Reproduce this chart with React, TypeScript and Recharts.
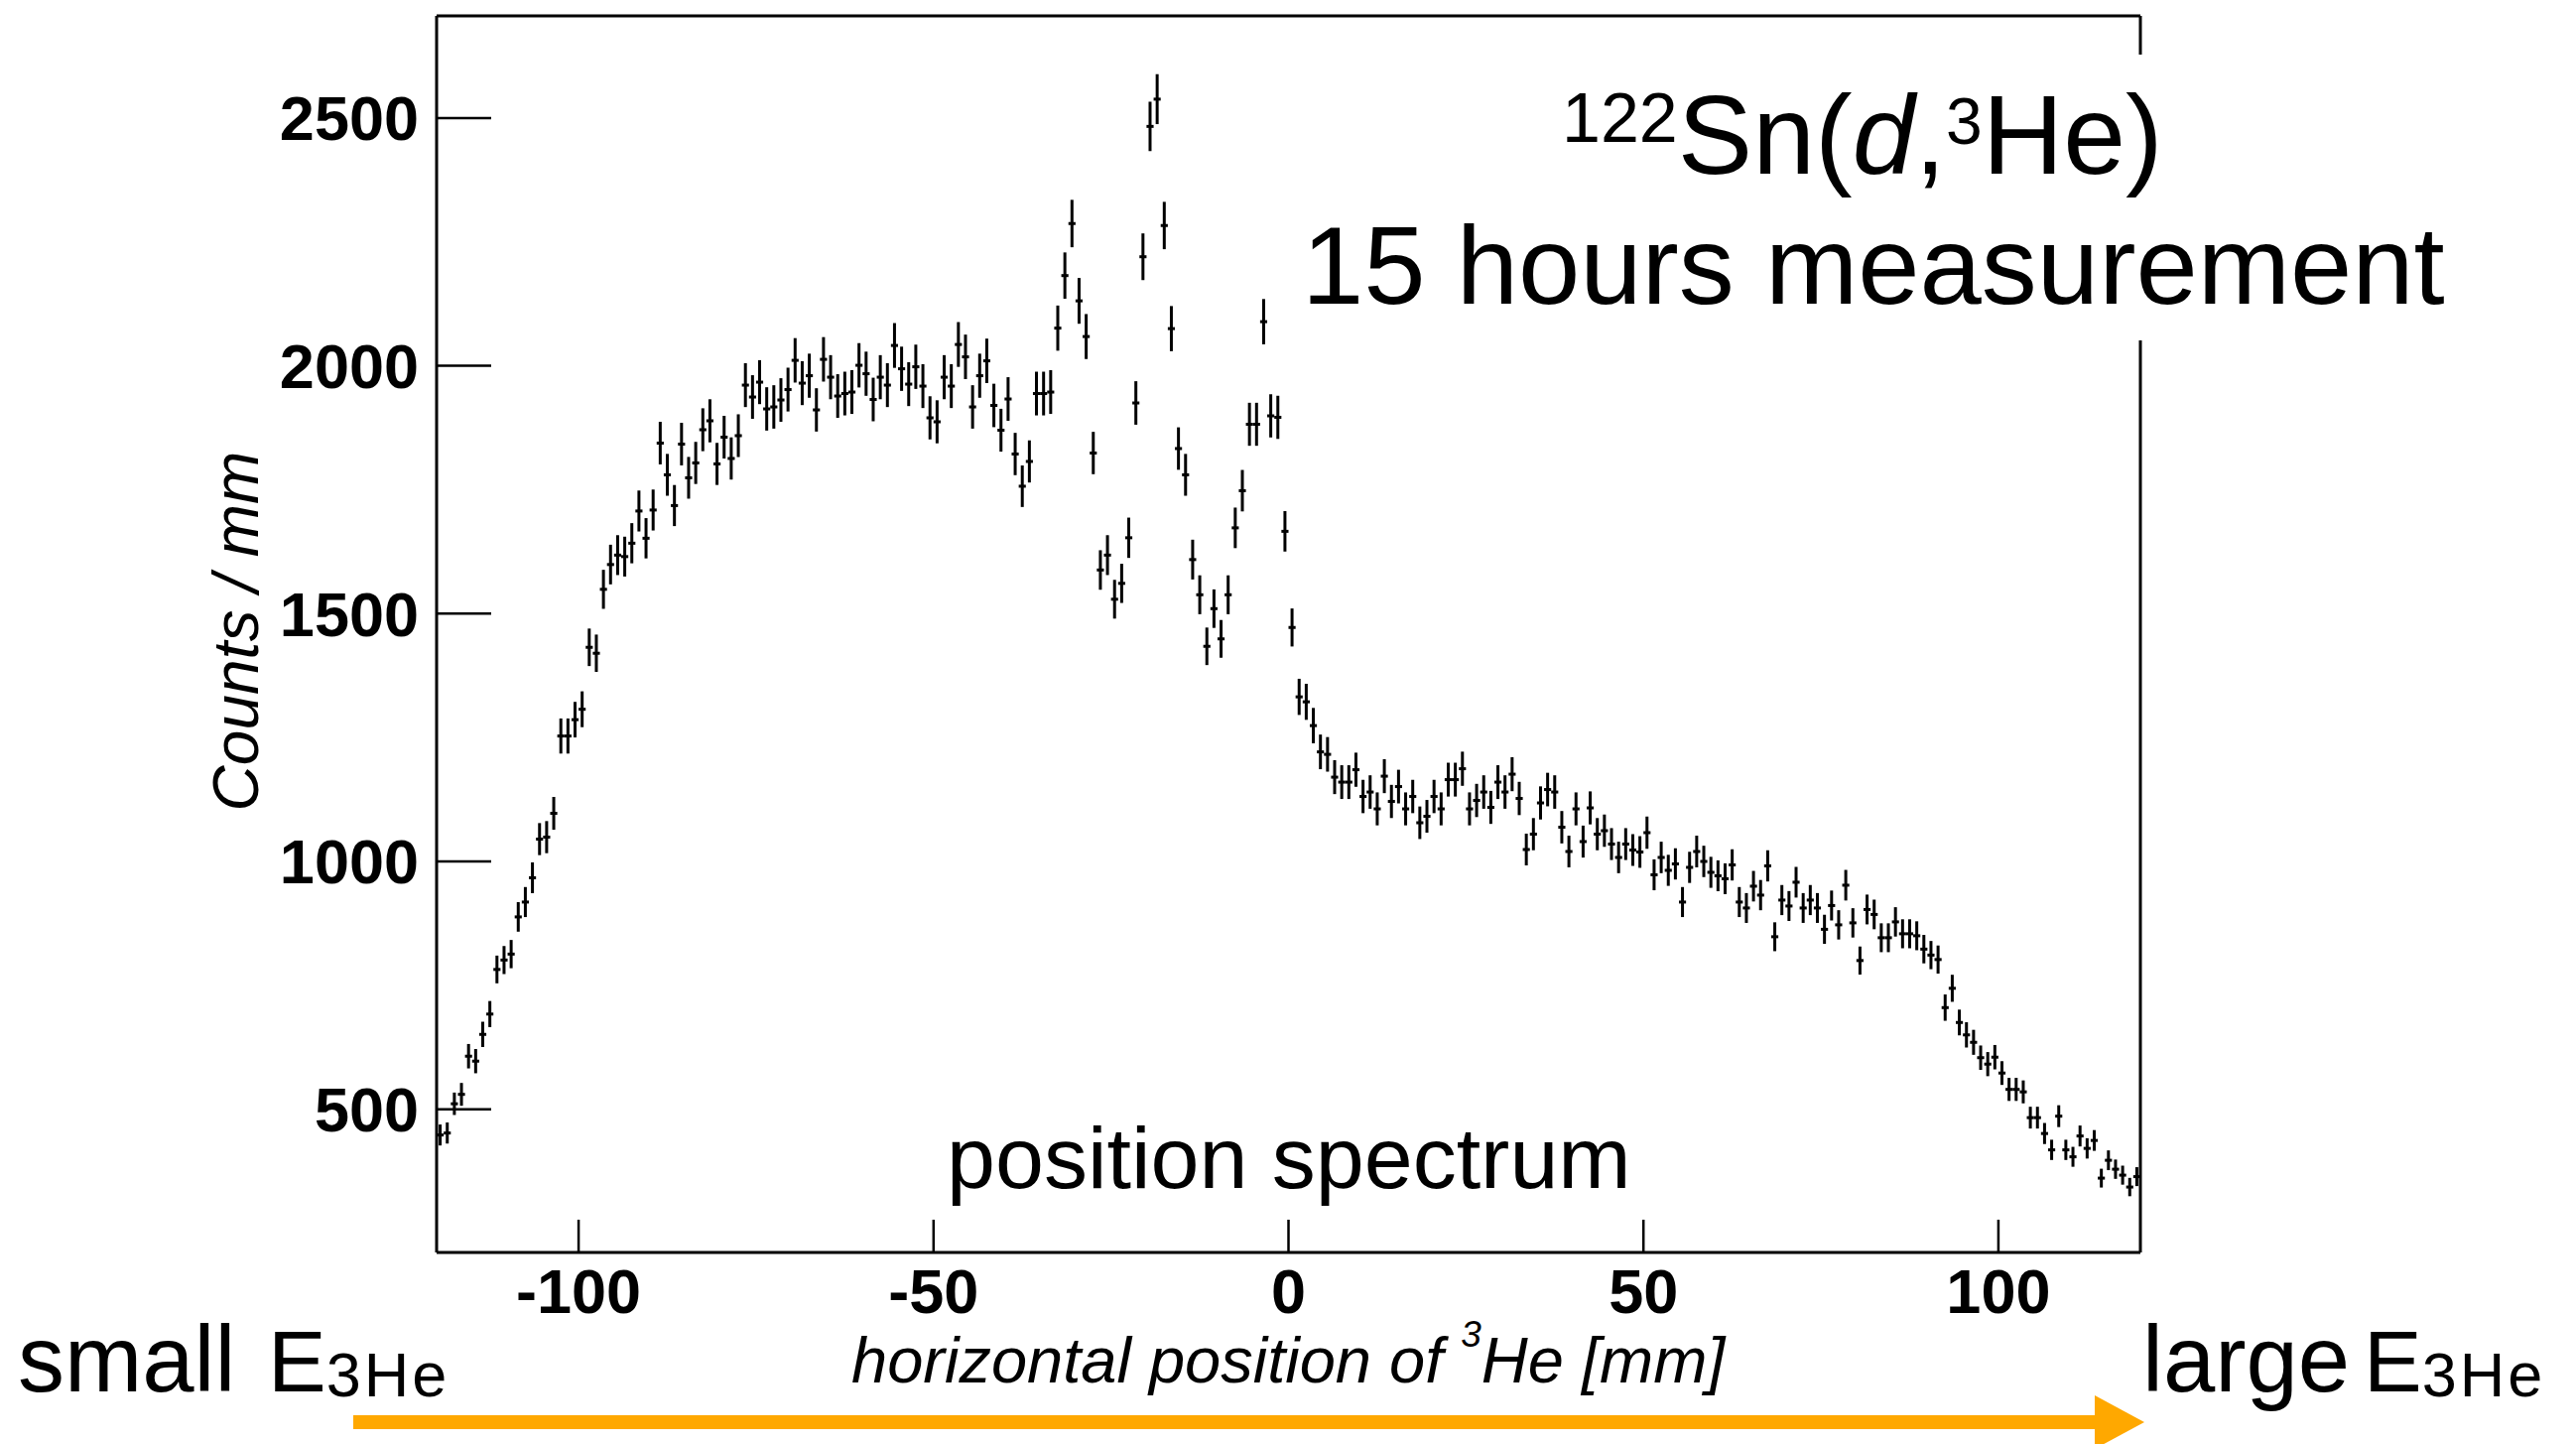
import React from 'react';
import { ScatterChart, Scatter, XAxis, YAxis, ErrorBar } from 'recharts';

const FONT = '"Liberation Sans", Arial, Helvetica, sans-serif';

// Histogram binning (1 mm bins from -120 mm to +120 mm)
const BIN_LOW = -120;
const BIN_WIDTH = 1;

// Counts per mm, read bin by bin from the picture
const countsRise = [
  448, 452, 511, 530, 607, 597, 651, 692, 782, 801,
  813, 888, 918, 967, 1045, 1049, 1097, 1253, 1253, 1286,
  1307, 1432, 1420, 1549, 1599, 1618, 1615, 1642, 1707, 1652,
  1709, 1844, 1780, 1718, 1842, 1774, 1804, 1871, 1889, 1802,
];
const countsPlateau = [
  1856, 1813, 1859, 1961, 1937, 1967, 1913, 1917, 1931, 1952,
  2011, 1965, 1980, 1911, 2013, 1977, 1939, 1944, 1947, 2001,
  1984, 1932, 1977, 1961, 2041, 1994, 1963, 1998, 1959, 1895,
  1887, 1977, 1959, 2043, 2018, 1917, 1980, 2010, 1920, 1870,
];
const countsPeaks = [
  1933, 1822, 1757, 1807, 1944, 1944, 1947, 2076, 2182, 2287,
  2131, 2059, 1824, 1588, 1618, 1529, 1561, 1653, 1925, 2220,
  2483, 2538, 2283, 2075, 1833, 1780, 1609, 1538, 1434, 1510,
  1449, 1538, 1673, 1748, 1882, 1882, 2089, 1899, 1896, 1666,
];
const countsShoulder = [
  1472, 1332, 1322, 1274, 1221, 1216, 1170, 1160, 1160, 1185,
  1131, 1140, 1106, 1172, 1121, 1151, 1106, 1131, 1078, 1091,
  1131, 1106, 1165, 1165, 1187, 1106, 1123, 1140, 1109, 1160,
  1140, 1176, 1127, 1024, 1055, 1118, 1145, 1140, 1069, 1020,
];
const countsSlope = [
  1106, 1040, 1108, 1055, 1062, 1035, 1008, 1035, 1023, 1019,
  1058, 973, 1008, 982, 995, 918, 988, 1020, 1000, 978,
  971, 965, 993, 918, 906, 950, 932, 991, 848, 922,
  910, 958, 906, 922, 906, 863, 911, 872, 952, 876,
];
const countsTail = [
  800, 903, 893, 846, 846, 878, 854, 854, 850, 823,
  811, 802, 705, 744, 675, 650, 635, 604, 591, 605,
  573, 540, 540, 535, 483, 483, 451, 418, 486, 418,
  404, 446, 421, 437, 361, 397, 379, 367, 343, 364,
];

const allCounts = [
  ...countsRise, ...countsPlateau, ...countsPeaks,
  ...countsShoulder, ...countsSlope, ...countsTail,
];

// statistical (Poisson) error of each bin, half bin width horizontally
const data = allCounts.map((c, i) => ({
  x: BIN_LOW + BIN_WIDTH * (i + 0.5),
  y: c,
  ex: BIN_WIDTH / 2,
  ey: Math.sqrt(c),
}));

const X_DOMAIN: [number, number] = [-120, 120];
const Y_DOMAIN: [number, number] = [211, 2706];
const xMajorTicks = [-100, -50, 0, 50, 100];
const xMinorTicks = [-110, -90, -80, -70, -60, -40, -30, -20, -10, 10, 20, 30, 40, 60, 70, 80, 90, 110];
const yMajorTicks = [500, 1000, 1500, 2000, 2500];
const yMinorTicks = [300, 400, 600, 700, 800, 900, 1100, 1200, 1300, 1400, 1600, 1700, 1800, 1900, 2100, 2200, 2300, 2400, 2600, 2700];

const noMarker = () => <g />;

const tickFont = { fontSize: 63, fontWeight: 700, fill: '#000', fontFamily: FONT };
const tickLineStyle = { stroke: '#000', strokeWidth: 2.5 };
const axisLineStyle = { stroke: '#000', strokeWidth: 3 };

export default function App() {
  return (
    <div style={{ position: 'absolute', left: 0, top: 0, width: 2596, height: 1455, background: '#fff' }}>
      <ScatterChart
        width={2596}
        height={1455}
        margin={{ top: 15, left: 438, right: 438, bottom: 191 }}
      >
        <XAxis
          xAxisId="main"
          dataKey="x"
          type="number"
          domain={X_DOMAIN}
          allowDataOverflow
          ticks={xMajorTicks}
          interval={0}
          height={1}
          tickSize={-33}
          tickMargin={49}
          tick={tickFont}
          tickLine={tickLineStyle}
          axisLine={axisLineStyle}
        />
        <XAxis
          xAxisId="minor"
          dataKey="x"
          type="number"
          domain={X_DOMAIN}
          allowDataOverflow
          ticks={xMinorTicks}
          interval={0}
          height={1}
          tickSize={-17}
          tick={false}
          tickLine={tickLineStyle}
          axisLine={false}
        />
        <XAxis
          xAxisId="top"
          orientation="top"
          dataKey="x"
          type="number"
          domain={X_DOMAIN}
          allowDataOverflow
          ticks={[0]}
          height={1}
          tick={false}
          tickLine={false}
          axisLine={axisLineStyle}
        />
        <YAxis
          yAxisId="main"
          dataKey="y"
          type="number"
          domain={Y_DOMAIN}
          allowDataOverflow
          ticks={yMajorTicks}
          interval={0}
          width={1}
          tickSize={-55}
          tickMargin={73}
          tick={tickFont}
          tickLine={tickLineStyle}
          axisLine={axisLineStyle}
        />
        <YAxis
          yAxisId="minor"
          dataKey="y"
          type="number"
          domain={Y_DOMAIN}
          allowDataOverflow
          ticks={yMinorTicks}
          interval={0}
          width={1}
          tickSize={-28}
          tick={false}
          tickLine={tickLineStyle}
          axisLine={false}
        />
        <YAxis
          yAxisId="right"
          orientation="right"
          dataKey="y"
          type="number"
          domain={Y_DOMAIN}
          allowDataOverflow
          ticks={[1000]}
          width={1}
          tick={false}
          tickLine={false}
          axisLine={axisLineStyle}
        />
        <Scatter
          data={data}
          dataKey="y"
          xAxisId="main"
          yAxisId="main"
          fill="#000"
          shape={noMarker}
          isAnimationActive={false}
        >
          <ErrorBar dataKey="ey" direction="y" width={0} stroke="#000" strokeWidth={3} isAnimationActive={false} />
          <ErrorBar dataKey="ex" direction="x" width={0} stroke="#000" strokeWidth={3} isAnimationActive={false} />
        </Scatter>
      </ScatterChart>

      <svg
        width={2596}
        height={1455}
        style={{ position: 'absolute', left: 0, top: 0, pointerEvents: 'none' }}
        fontFamily={FONT}
      >
        <rect x={1300} y={55} width={1180} height={288} fill="#fff" />
        <text x={1574} y={175} fontSize={113} fill="#000">
          <tspan fontSize={70} y={143}>122</tspan>
          <tspan y={175}>Sn(</tspan>
          <tspan fontStyle="italic">d</tspan>
          <tspan>,</tspan>
          <tspan fontSize={66} y={145}>3</tspan>
          <tspan y={175}>He)</tspan>
        </text>
        <text x={1312} y={306} fontSize={112} fill="#000">15 hours measurement</text>

        <text x={954} y={1197} fontSize={88} fill="#000">position spectrum</text>

        <text
          transform="translate(260, 636) rotate(-90)"
          textAnchor="middle"
          fontSize={64}
          fontStyle="italic"
          fill="#000"
        >
          Counts / mm
        </text>

        <text x={858} y={1393} fontSize={65} fontStyle="italic" fill="#000">
          {'horizontal position of '}
          <tspan fontSize={37} y={1357}>3</tspan>
          <tspan y={1393}>{'He [mm]'}</tspan>
        </text>

        <text x={18} y={1402} fontSize={94} fill="#000">
          {'small'}
          <tspan x={270} fontSize={88}>E</tspan>
          <tspan fontSize={63} y={1407} letterSpacing={3}>3He</tspan>
        </text>
        <text x={2159} y={1402} fontSize={94} fill="#000">
          {'large'}
          <tspan x={2382} fontSize={88}>E</tspan>
          <tspan fontSize={63} y={1407} letterSpacing={3}>3He</tspan>
        </text>

        <rect x={356} y={1426} width={1760} height={14} fill="#FFA800" />
        <polygon points="2111,1406 2161,1433 2111,1460" fill="#FFA800" />
      </svg>
    </div>
  );
}
